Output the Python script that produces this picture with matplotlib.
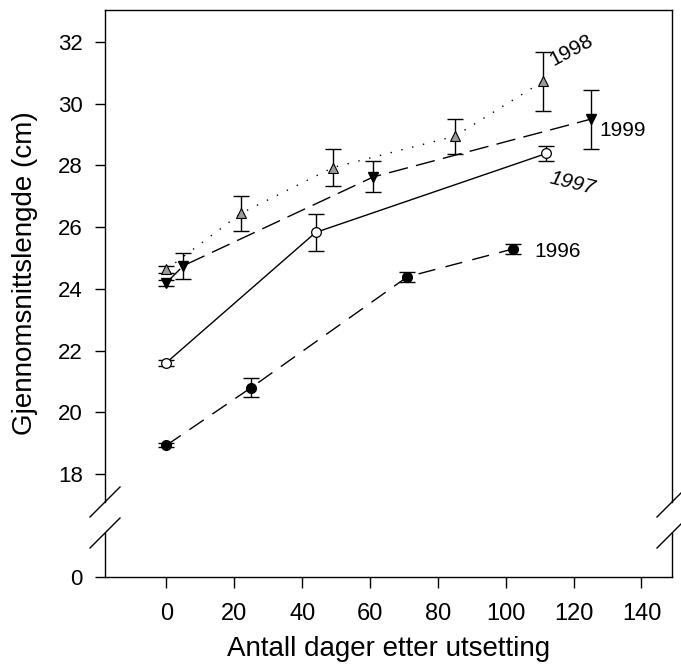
import numpy as np
import matplotlib
matplotlib.use("Agg")
import matplotlib.pyplot as plt
from matplotlib.lines import Line2D

plt.rcParams['font.family'] = ['Liberation Sans', 'DejaVu Sans']
plt.rcParams['lines.scale_dashes'] = False

# ---- data ----
days_1996 = [0, 25, 71, 102]
len_1996 = [18.93, 20.80, 24.39, 25.29]
err_1996 = [0.06, 0.30, 0.17, 0.17]

days_1997 = [0, 44, 112]
len_1997 = [21.61, 25.83, 28.39]
err_1997 = [0.10, 0.59, 0.25]

days_1998 = [0, 22, 49, 85, 111]
len_1998 = [24.63, 26.45, 27.93, 28.95, 30.73]
err_1998 = [0.10, 0.57, 0.60, 0.57, 0.96]

days_1999 = [0, 5, 61, 125]
len_1999 = [24.20, 24.75, 27.63, 29.50]
err_1999 = [0.10, 0.42, 0.50, 0.96]

year_labels = ['1996', '1997', '1998', '1999']
x_ticks = [0, 20, 40, 60, 80, 100, 120, 140]
y_ticks = [0, 18, 20, 22, 24, 26, 28, 30, 32]

# ---- broken-axis scale ----
Z0 = 14.66   # virtual position of 0
BRK = 17.0


def fwd(v):
    v = np.asarray(v, dtype=float)
    return np.where(v >= BRK, v, Z0 + v * (BRK - Z0) / BRK)


def inv(u):
    u = np.asarray(u, dtype=float)
    return np.where(u >= BRK, u, (u - Z0) * BRK / (BRK - Z0))


fig = plt.figure(figsize=(6.81, 6.71), dpi=100)
ax = fig.add_axes([105 / 681, 1 - 577 / 671, 567 / 681, 567 / 671])
ax.set_yscale('function', functions=(fwd, inv))

lw = 1.0
ekw = dict(ecolor='black', elinewidth=lw, capsize=5.5, capthick=lw, zorder=2)

ax.errorbar(days_1996, len_1996, yerr=err_1996, fmt='none', **ekw)
ax.plot(days_1996, len_1996, color='black', lw=lw, dashes=(12.5, 7.5),
        marker='o', ms=7, mfc='black', mec='black', zorder=3)

ax.errorbar(days_1997, len_1997, yerr=err_1997, fmt='none', **ekw)
ax.plot(days_1997, len_1997, color='black', lw=lw, ls='-',
        marker='o', ms=7, mfc='white', mec='black', mew=0.9, zorder=3)

ax.errorbar(days_1998, len_1998, yerr=err_1998, fmt='none', **ekw)
ax.plot(days_1998, len_1998, color='black', lw=1.0, dashes=(1, 7),
        marker='^', ms=7, mfc='#9a9a9a', mec='black', mew=0.8, zorder=3)

ax.errorbar(days_1999, len_1999, yerr=err_1999, fmt='none', **ekw)
ax.plot(days_1999, len_1999, color='black', lw=lw, dashes=(14, 6),
        marker='v', ms=7.5, mfc='black', mec='black', zorder=3)

# year labels
fs = 15
ax.text(115.3, 25.22, year_labels[0], fontsize=fs, ha='center', va='center')
ax.text(119.7, 27.43, year_labels[1], fontsize=fs, ha='center', va='center',
        rotation=-14, style='italic')
ax.text(119.4, 31.74, year_labels[2], fontsize=fs, ha='center', va='center',
        rotation=28)
ax.text(134.4, 29.15, year_labels[3], fontsize=fs, ha='center', va='center')

ax.set_xlim(-18.1, 149.0)
ax.set_ylim(0, 33.04)
ax.set_xticks(x_ticks)
ax.set_yticks(y_ticks)
ax.set_yticklabels([str(t) for t in y_ticks])
ax.minorticks_off()
ax.tick_params(axis='both', direction='out', width=1.0)
ax.tick_params(axis='y', length=7, pad=9, labelsize=16)
ax.tick_params(axis='x', length=8, pad=11, labelsize=17)

ax.set_xlabel('Antall dager etter utsetting', fontsize=20)
ax.set_ylabel('Gjennomsnittslengde (cm)', fontsize=20)
ax.xaxis.set_label_coords(0.5, -0.104)
ax.yaxis.set_label_coords(-0.118, (577 - 273.5) / 567)

# spines with gaps for axis break
for s in ('left', 'right'):
    ax.spines[s].set_visible(False)
for s in ('top', 'bottom'):
    ax.spines[s].set_linewidth(1.0)
g0, g1 = 0.0776, 0.1323
for xs in (0.0, 1.0):
    ax.add_line(Line2D([xs, xs], [0, g0], transform=ax.transAxes, color='black',
                       lw=1.0, clip_on=False))
    ax.add_line(Line2D([xs, xs], [g1, 1], transform=ax.transAxes, color='black',
                       lw=1.0, clip_on=False))

# break marks
for xs in (0.0, 1.0):
    for yc in (g0, g1):
        dx = 15 / 567
        ax.add_line(Line2D([xs - dx, xs + dx], [yc - dx, yc + dx],
                           transform=ax.transAxes, color='black', lw=1.0,
                           clip_on=False))

fig.savefig('out.png', dpi=100)
